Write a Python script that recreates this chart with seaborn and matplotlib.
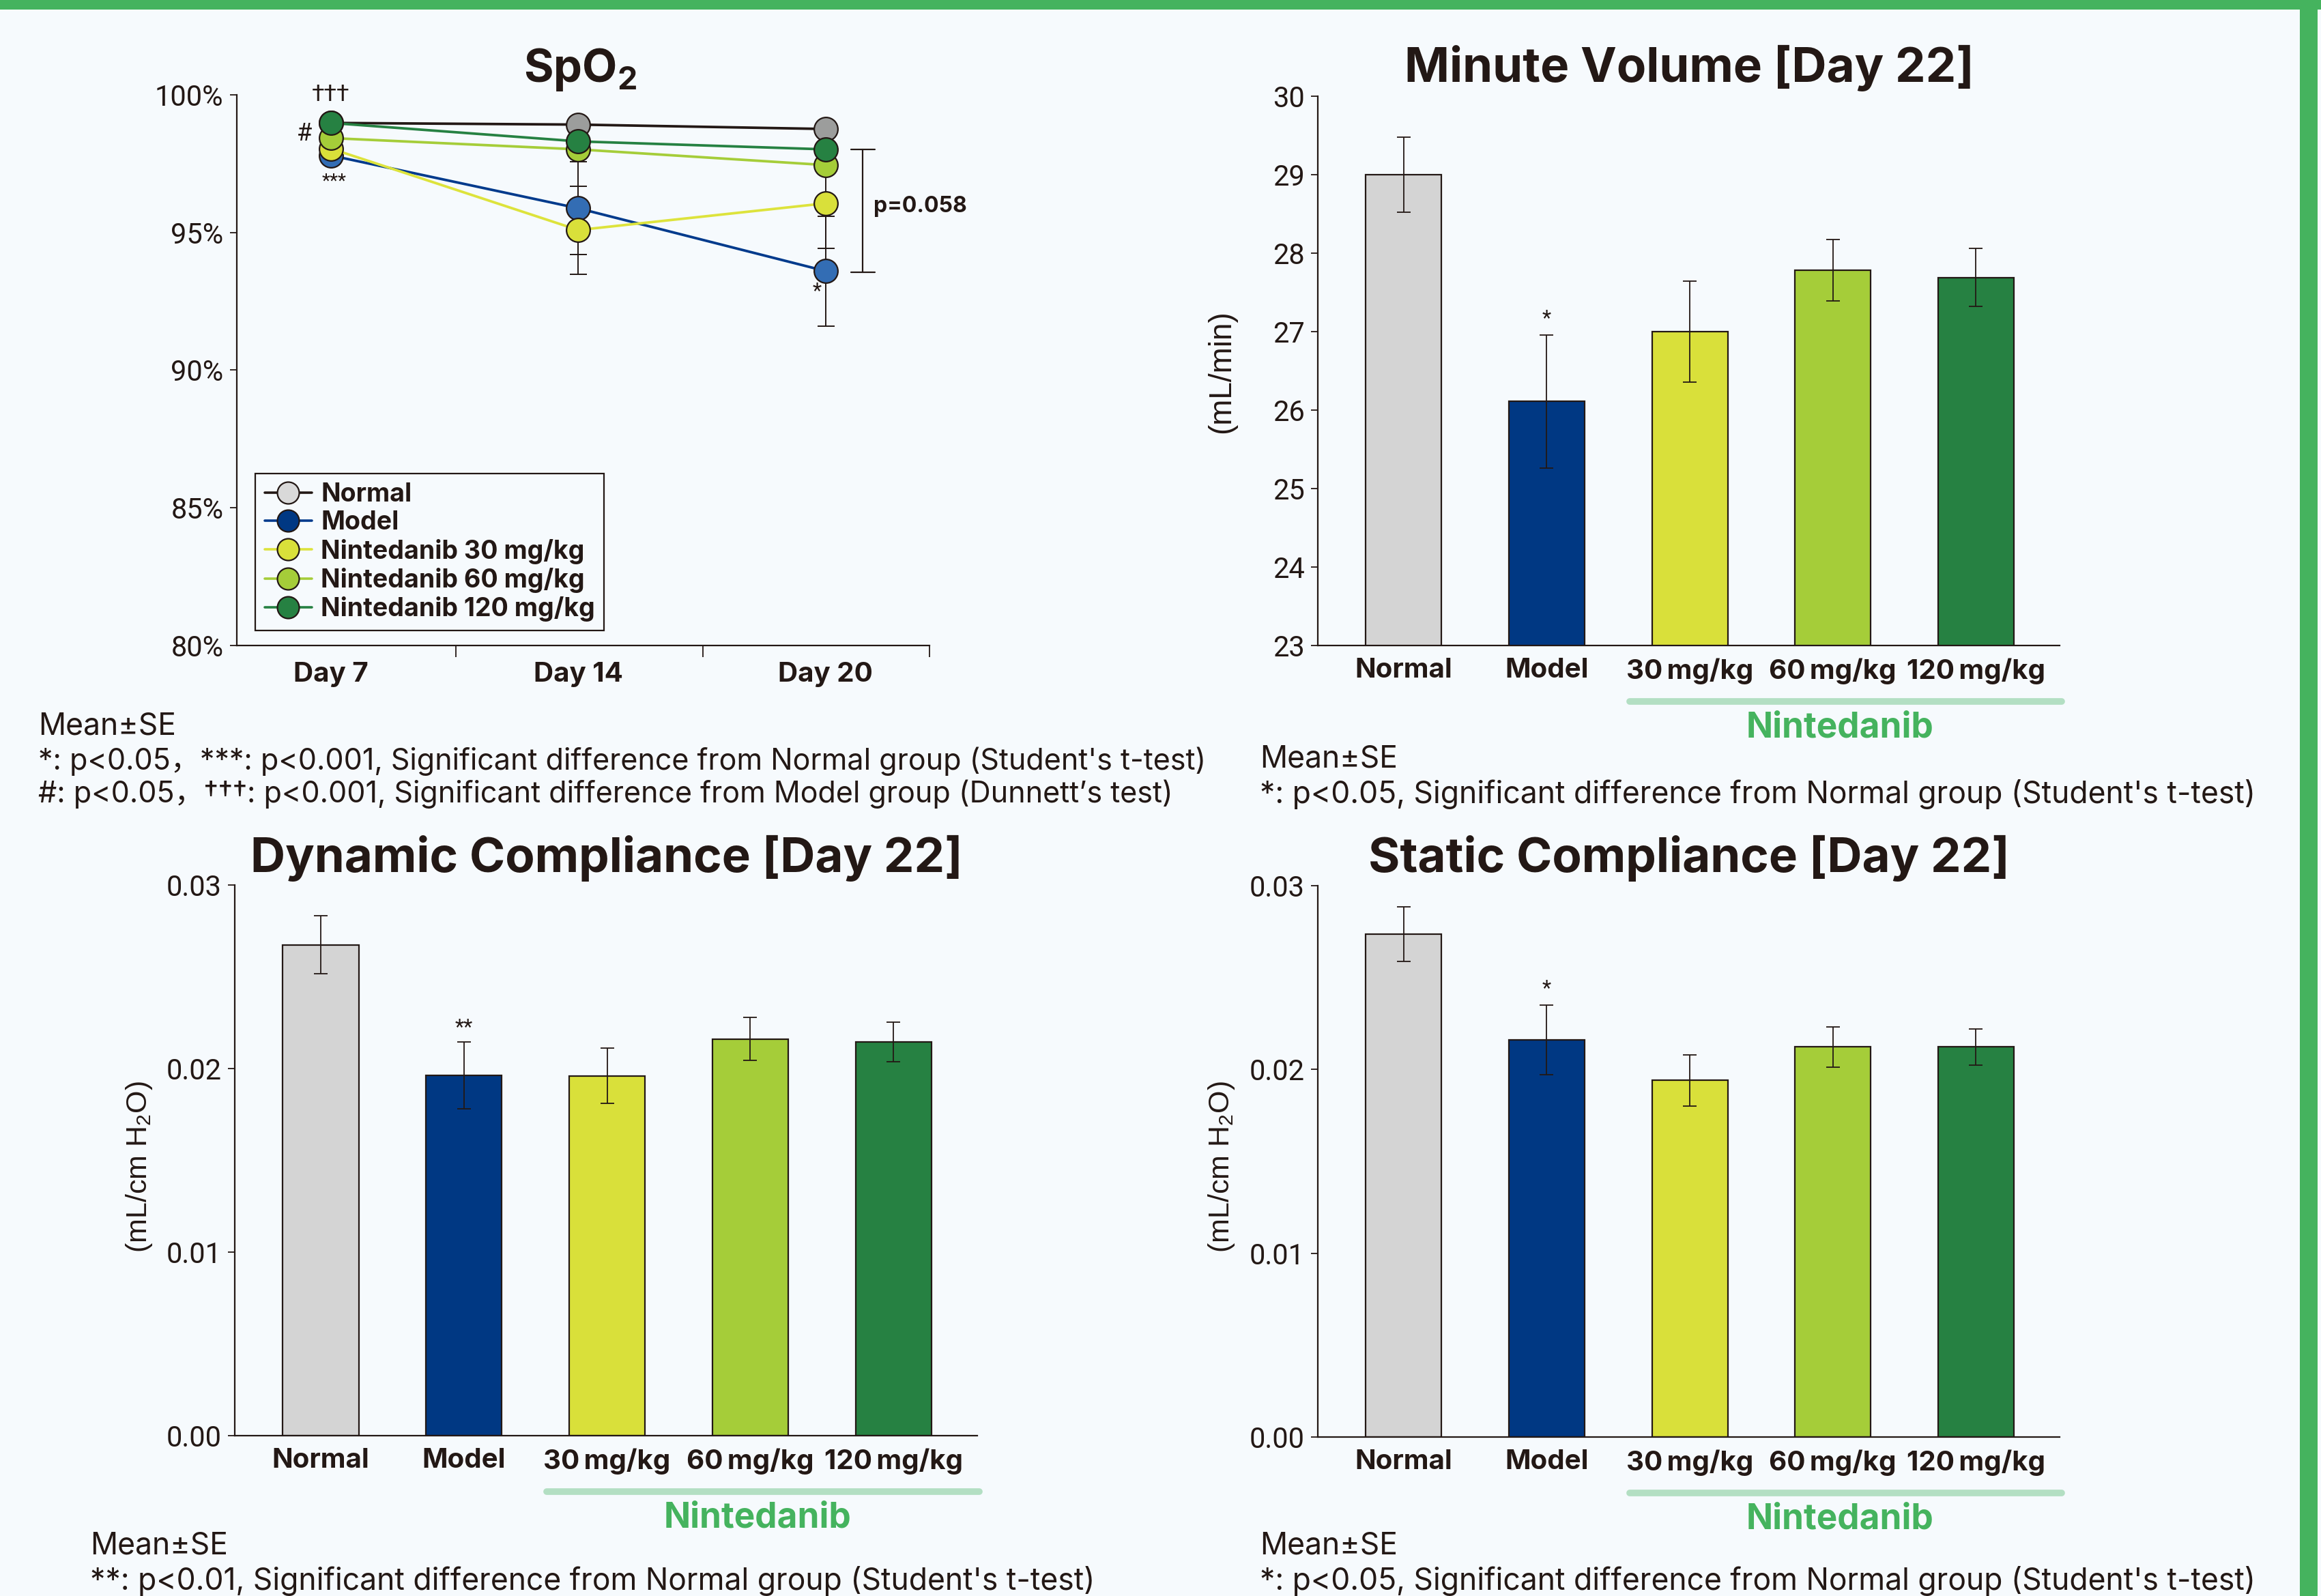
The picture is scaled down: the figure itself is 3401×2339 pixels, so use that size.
import numpy as np
import pandas as pd
import matplotlib
matplotlib.use("Agg")
import matplotlib.pyplot as plt
import seaborn as sns
from matplotlib.lines import Line2D
from matplotlib.patches import Rectangle
from matplotlib.ticker import FormatStrFormatter, FixedLocator

# ---------------- data ----------------
days = ["Day 7", "Day 14", "Day 20"]
spo2_groups = ["Normal", "Model", "Nintedanib 30 mg/kg", "Nintedanib 60 mg/kg", "Nintedanib 120 mg/kg"]
spo2_normal = [98.98, 98.92, 98.76]
spo2_model = [97.80, 95.88, 93.60]
spo2_n30 = [98.05, 95.09, 96.06]
spo2_n60 = [98.43, 98.02, 97.45]
spo2_n120 = [98.98, 98.31, 98.02]
spo2_normal_se = [0.10, 0.10, 0.10]
spo2_model_se = [0.20, 1.68, 2.00]
spo2_n30_se = [0.20, 1.60, 1.64]
spo2_n60_se = [0.20, 0.30, 0.20]
spo2_n120_se = [0.10, 0.20, 0.20]

bar_groups = ["Normal", "Model", "30 mg/kg", "60 mg/kg", "120 mg/kg"]
mv_mean = [29.00, 26.11, 27.00, 27.78, 27.69]
mv_se = [0.48, 0.85, 0.64, 0.39, 0.37]
dyn_mean = [0.02673, 0.01962, 0.01960, 0.02160, 0.02144]
dyn_se = [0.00158, 0.00182, 0.00150, 0.00117, 0.00108]
sta_mean = [0.02737, 0.02160, 0.01940, 0.02122, 0.02122]
sta_se = [0.00149, 0.00190, 0.00140, 0.00108, 0.00099]

# ---------------- style ----------------
sns.set_theme(style="ticks")
TICK = ["Roboto", "DejaVu Sans"]
FOOT = ["Inter", "Noto Sans CJK JP", "DejaVu Sans"]
BOLD = ["Inter", "DejaVu Sans"]
YLAB = ["Liberation Sans", "DejaVu Sans"]
plt.rcParams["font.family"] = TICK
plt.rcParams["axes.unicode_minus"] = False
plt.rcParams["mathtext.fontset"] = "custom"
plt.rcParams["mathtext.rm"] = "Liberation Sans"
plt.rcParams["mathtext.bf"] = "Inter:bold"

W, H = 3401, 2339
BG = "#F6FAFD"
INK = "#231815"
GREEN = "#45B35E"
BRACKET = "#B3DFC3"

bar_colors = ["#D4D4D4", "#003883", "#D9E03A", "#A5CD39", "#268142"]
line_colors = [INK, "#003A8C", "#DDE33C", "#A5CD39", "#268142"]
marker_faces = ["#9C9D9C", "#336DB4", "#D9E03A", "#A5CD39", "#268142"]
legend_faces = ["#D9D9D9", "#003883", "#D9E03A", "#A5CD39", "#268142"]

fig = plt.figure(figsize=(W / 100, H / 100), dpi=100, facecolor=BG)


def add_ax(l, t, r, b):
    ax = fig.add_axes([l / W, 1 - b / H, (r - l) / W, (b - t) / H])
    ax.set_facecolor("none")
    return ax


def ftext(x, y, s, **kw):
    return fig.text(x / W, 1 - y / H, s, **kw)


def style_axes(ax):
    sns.despine(ax=ax)
    for sp in ["left", "bottom"]:
        ax.spines[sp].set_linewidth(1.6)
        ax.spines[sp].set_color(INK)
    ax.tick_params(axis="y", direction="out", length=7, width=1.3, color=INK,
                   labelsize=30, labelcolor=INK, pad=7)


# ---------------- border ----------------
fig.patches.append(Rectangle((0, 1 - 14 / H), 1, 14 / H, transform=fig.transFigure,
                             facecolor=GREEN, edgecolor="none", zorder=0))
fig.patches.append(Rectangle((3370 / W, 0), 26 / W, 1, transform=fig.transFigure,
                             facecolor=GREEN, edgecolor="none", zorder=0))

# ---------------- SpO2 ----------------
ax1 = add_ax(347, 139, 1362, 946)
style_axes(ax1)
xpos = [0, 1, 2]
series = [spo2_normal, spo2_model, spo2_n30, spo2_n60, spo2_n120]
ses = [spo2_normal_se, spo2_model_se, spo2_n30_se, spo2_n60_se, spo2_n120_se]
for i, (vals, se) in enumerate(zip(series, ses)):
    ax1.errorbar(xpos, vals, yerr=se, fmt="none", ecolor=INK, elinewidth=1.4,
                 capsize=9, capthick=1.4, zorder=2)
for i, vals in enumerate(series):
    df = pd.DataFrame({"x": xpos, "y": vals})
    sns.lineplot(data=df, x="x", y="y", ax=ax1, color=line_colors[i], linewidth=2.7,
                 marker="o", markersize=25, markerfacecolor=marker_faces[i],
                 markeredgecolor=INK, markeredgewidth=1.6, zorder=3 + i)
ax1.set_xlim(-0.38, 2.42)
ax1.set_ylim(80, 100)
ax1.set_yticks([80, 85, 90, 95, 100])
ax1.yaxis.set_major_formatter(FormatStrFormatter("%d%%"))
ax1.set_xticks(xpos)
ax1.set_xticklabels(days, fontfamily=BOLD, fontweight="bold", fontsize=29, color=INK)
ax1.xaxis.set_minor_locator(FixedLocator([0.505, 1.505, 2.42]))
ax1.tick_params(axis="x", which="major", length=0, pad=17)
ax1.tick_params(axis="x", which="minor", length=12, width=1.3, color=INK, direction="out")
ax1.set_xlabel("")
ax1.set_ylabel("")

# significance annotations
ax1.text(0.0, 100.0, "†††", ha="center", va="center", fontsize=24, color=INK)
ax1.text(-0.107, 98.58, "#", ha="center", va="center", fontsize=26, color=INK)
ax1.text(0.014, 96.85, "***", ha="center", va="center", fontsize=20, color=INK)
ax1.text(1.964, 92.85, "*", ha="center", va="center", fontsize=22, color=INK)
# p bracket
bx = 2.151
ax1.plot([bx, bx], [93.56, 98.02], color=INK, lw=1.6, clip_on=False)
ax1.plot([bx - 0.047, bx + 0.047], [98.02, 98.02], color=INK, lw=1.6, clip_on=False)
ax1.plot([bx - 0.047, bx + 0.047], [93.56, 93.56], color=INK, lw=1.6, clip_on=False)
ax1.text(2.195, 95.96, "p=0.058", ha="left", va="center", fontsize=23,
         fontfamily=BOLD, fontweight="bold", color=INK, clip_on=False)

handles = [Line2D([], [], color=line_colors[i], lw=2.6, marker="o", markersize=23,
                  markerfacecolor=legend_faces[i], markeredgecolor=INK, markeredgewidth=1.6)
           for i in range(5)]
leg = ax1.legend(handles, spo2_groups, loc="lower left", bbox_to_anchor=(0.027, 0.027),
                 borderaxespad=0, frameon=True, fancybox=False, framealpha=1,
                 edgecolor=INK, facecolor=BG, handlelength=1.85, handletextpad=0.35,
                 labelspacing=0.14, borderpad=0.35,
                 prop={"family": BOLD, "weight": "bold", "size": 27})
leg.get_frame().set_linewidth(1.6)
for t in leg.get_texts():
    t.set_color(INK)

ftext(850, 102, r"SpO$_\mathbf{2}$", ha="center", va="center", fontsize=48, fontweight="bold",
      fontfamily=BOLD, color=INK)
ftext(56, 1064, "Mean±SE", ha="left", va="center", fontsize=32, fontfamily=FOOT, color=INK)
ftext(56, 1116, "*: p<0.05，***: p<0.001, Significant difference from Normal group (Student's t-test)",
      ha="left", va="center", fontsize=31, fontfamily=FOOT, color=INK)
ftext(56, 1164, "#: p<0.05，†††: p<0.001, Significant difference from Model group (Dunnett’s test)",
      ha="left", va="center", fontsize=31, fontfamily=FOOT, color=INK)


# ---------------- bar panels ----------------
def bar_panel(box, means, ses, ylim, yticks, fmt, title, title_xy, ylabel, ylabel_xy, ylabel_size,
              stars, star_y, foot_xy, foot_lines):
    ax = add_ax(*box)
    style_axes(ax)
    df = pd.DataFrame({"group": bar_groups, "value": means})
    sns.barplot(data=df, x="group", y="value", hue="group", palette=bar_colors,
                saturation=1, width=0.53, edgecolor=INK, linewidth=1.6, legend=False,
                ax=ax, zorder=2)
    ax.errorbar(range(5), means, yerr=ses, fmt="none", ecolor=INK, elinewidth=1.3,
                capsize=7, capthick=1.3, zorder=4)
    ax.set_xlim(-0.6, 4.585)
    ax.set_ylim(*ylim)
    ax.set_yticks(yticks)
    ax.yaxis.set_major_formatter(FormatStrFormatter(fmt))
    ax.set_xticks(range(5))
    ax.set_xticklabels([g.replace(" ", "\u2009") for g in bar_groups], fontfamily=BOLD,
                       fontweight="bold", fontsize=29, color=INK)
    ax.tick_params(axis="x", length=0, pad=13)
    ax.set_xlabel("")
    ax.set_ylabel("")
    ax.text(1, star_y, stars, ha="center", va="center", fontsize=22, color=INK)
    # Nintedanib bracket
    tr = ax.get_xaxis_transform()
    ax.plot([1.58, 4.6], [-0.102, -0.102], transform=tr, color=BRACKET, lw=7,
            solid_capstyle="round", clip_on=False)
    ax.text(3.05, -0.15, "Nintedanib", transform=tr, ha="center", va="center",
            fontsize=37, fontweight="bold", fontfamily=BOLD, color=GREEN)
    ftext(title_xy[0], title_xy[1], title, ha="center", va="center", fontsize=51,
          fontweight="bold", fontfamily=BOLD, color=INK)
    ftext(ylabel_xy[0], ylabel_xy[1], ylabel, ha="center", va="center", rotation=90,
          fontsize=ylabel_size, fontfamily=YLAB, color=INK)
    for k, line in enumerate(foot_lines):
        ftext(foot_xy[0], foot_xy[1] + 51 * k, line, ha="left", va="center",
              fontsize=32, fontfamily=FOOT, color=INK)
    return ax


bar_panel((1931, 141, 3018, 946), mv_mean, mv_se, (23, 30), list(range(23, 31)), "%d",
          "Minute Volume [Day 22]", (2475, 100), "(mL/min)", (1790, 545), 33,
          "*", 27.16, (1846, 1113),
          ["Mean±SE", "*: p<0.05, Significant difference from Normal group (Student's t-test)"])

bar_panel((344, 1297, 1432, 2104), dyn_mean, dyn_se, (0, 0.03), [0, 0.01, 0.02, 0.03], "%.2f",
          "Dynamic Compliance [Day 22]", (889, 1258), r"(mL/cm H$_\mathregular{2}$O)", (204, 1710), 31,
          "**", 0.0222, (132, 2266),
          ["Mean±SE", "**: p<0.01, Significant difference from Normal group (Student's t-test)"])

bar_panel((1931, 1298, 3018, 2106), sta_mean, sta_se, (0, 0.03), [0, 0.01, 0.02, 0.03], "%.2f",
          "Static Compliance [Day 22]", (2475, 1258), r"(mL/cm H$_\mathregular{2}$O)", (1790, 1710), 31,
          "*", 0.02437, (1846, 2266),
          ["Mean±SE", "*: p<0.05, Significant difference from Normal group (Student's t-test)"])

fig.savefig("out.png", dpi=100, facecolor=BG)
